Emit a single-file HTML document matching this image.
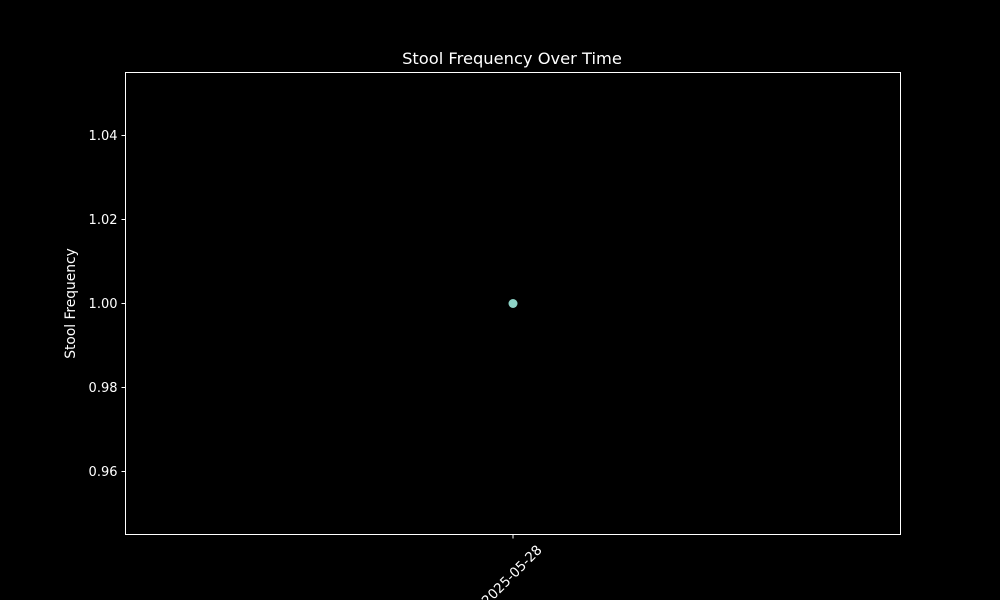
<!DOCTYPE html>
<html><head><meta charset="utf-8"><style>html,body{margin:0;background:#000;}svg{display:block;font-family:"DejaVu Sans","Liberation Sans",sans-serif;}</style></head>
<body>
<svg id="chart" width="1000" height="600">
<rect width="1000" height="600" fill="#000"/>
<text x="512" y="64" fill="#fff" font-size="16.3" text-anchor="middle">Stool Frequency Over Time</text>
<text transform="translate(75,303.5) rotate(-90)" fill="#fff" font-size="13.8" text-anchor="middle">Stool Frequency</text>
<g id="axes"></g>
<rect x="125.5" y="72.5" width="775" height="462" fill="none" stroke="#fff" stroke-width="1"/>
</svg>
<script>
const dates = ["2025-05-28"];
const values = [1];
const yTicks = [0.96, 0.98, 1.00, 1.02, 1.04];
const yTickLabels = ["0.96", "0.98", "1.00", "1.02", "1.04"];
const NS = "http://www.w3.org/2000/svg";
const L = 125.5, R = 900.5, T = 72.5, B = 534.5;
const yMin = 0.945, yMax = 1.055;
function yS(v) { return B - (v - yMin) / (yMax - yMin) * (B - T); }
function xS(i) { return dates.length === 1 ? (L + R) / 2 : L + (i + 0.5) / dates.length * (R - L); }
const g = document.getElementById('axes');
function mk(tag, attrs) { const e = document.createElementNS(NS, tag); for (const k in attrs) e.setAttribute(k, attrs[k]); g.appendChild(e); return e; }
yTicks.forEach((t, i) => {
  const y = Math.round(yS(t)) + 0.5;
  const tk = mk('line', {x1: L - 4, x2: L, y1: y, y2: y, stroke: '#fff'});
  
  
  const tx = mk('text', {x: L - 8, y: y + 4.5, fill: '#fff', 'font-size': 13, 'text-anchor': 'end'});
  tx.textContent = yTickLabels[i];
  
  
});
dates.forEach((d, i) => {
  const x = Math.round(xS(i));
  const tk = mk('line', {x1: x, x2: x, y1: B, y2: B + 4, stroke: '#fff'});
  
  
  const tx = mk('text', {transform: `translate(${x + 2},${B + 44}) rotate(-45)`, fill: '#fff', 'font-size': 13.5, 'text-anchor': 'middle'});
  tx.textContent = d;
  
  
});
values.forEach((v, i) => {
  const c = mk('circle', {cx: xS(i), cy: yS(v), r: 4.5, fill: '#8dd3c7'});
  
  
});
</script>
</body></html>
